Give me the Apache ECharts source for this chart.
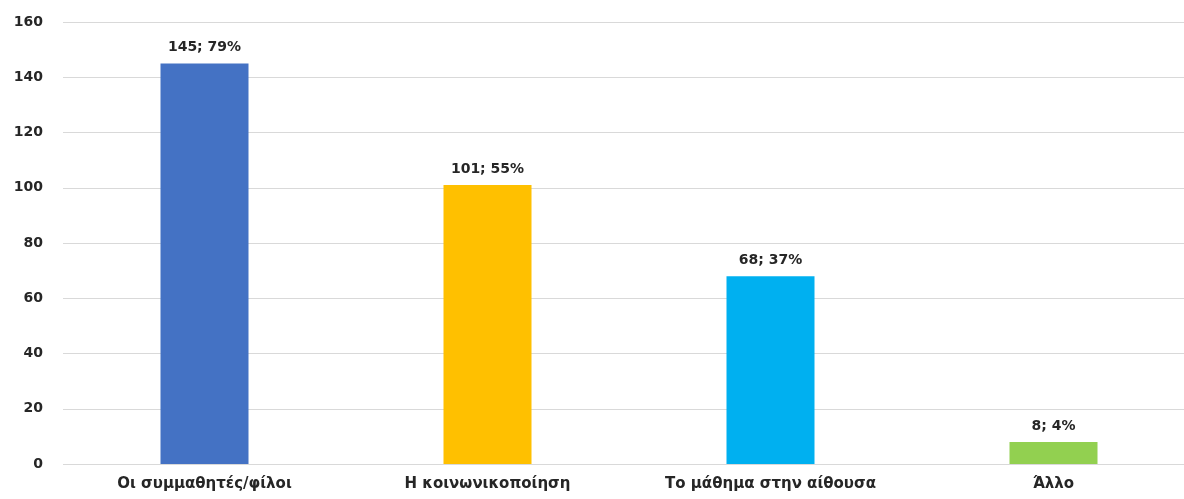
<!DOCTYPE html>
<html><head><meta charset="utf-8">
<script src="https://cdn.jsdelivr.net/npm/echarts@6/dist/echarts.min.js"></script>
<style>html,body{margin:0;padding:0;background:#fff;overflow:hidden}#c{width:1196px;height:499px}</style>
</head><body><div id="c"></div>
<script>
const categories = ['Οι συμμαθητές/φίλοι', 'Η κοινωνικοποίηση', 'Το μάθημα στην αίθουσα', 'Άλλο'];
const counts = [145, 101, 68, 8];
const percents = ['79%', '55%', '37%', '4%'];
const colors = ['#4472C4', '#FFC000', '#00B0F0', '#92D050'];
const font = 'DejaVu Sans';
const chart = echarts.init(document.getElementById('c'));
chart.setOption({
  animation: false,
  grid: { left: 63, right: 1, top: 22, bottom: 35 },
  xAxis: {
    type: 'category', data: categories,
    axisLine: { show: false }, axisTick: { show: false },
    axisLabel: { color: '#262626', fontFamily: font, fontWeight: 'bold', fontSize: 15, margin: 13 }
  },
  yAxis: {
    type: 'value', min: 0, max: 160, interval: 20,
    axisLine: { show: false }, axisTick: { show: false },
    axisLabel: { color: '#262626', fontFamily: font, fontWeight: 'bold', fontSize: 14, margin: 20 },
    splitLine: { lineStyle: { color: '#D9D9D9', width: 1 } }
  },
  series: [{
    type: 'bar', barWidth: 88,
    data: counts.map((v, i) => ({ value: v, itemStyle: { color: colors[i] } })),
    label: {
      show: true, position: 'top', distance: 9,
      color: '#262626', fontFamily: font, fontWeight: 'bold', fontSize: 14,
      formatter: p => counts[p.dataIndex] + '; ' + percents[p.dataIndex]
    }
  }]
});
</script></body></html>
